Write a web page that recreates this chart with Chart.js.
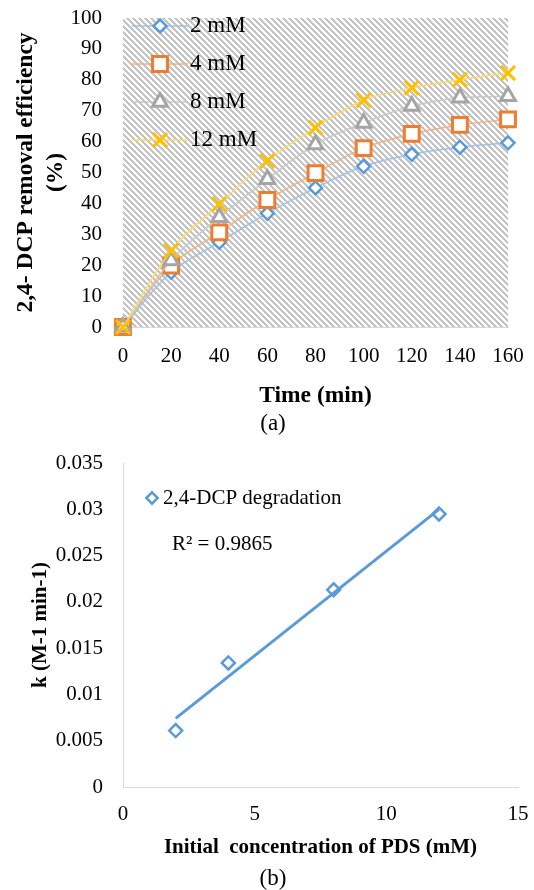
<!DOCTYPE html>
<html>
<head>
<meta charset="utf-8">
<script src="https://cdn.jsdelivr.net/npm/chart.js@4.4.1/dist/chart.umd.min.js"></script>
<style>
  body { margin: 0; background: #fff; }
  #page { position: relative; width: 534px; height: 890px; font-family: "Liberation Serif", "Times New Roman", serif; color: #000; }
  canvas { position: absolute; left: 0; }
  .cap { position: absolute; width: 100px; text-align: center; font-size: 23px; line-height: 26px; }
  #r2 { position: absolute; left: 172px; top: 531px; font-size: 21px; line-height: 24px; }
</style>
</head>
<body>
<div id="page">
  <canvas id="timeChart" width="534" height="440" style="top:0"></canvas>
  <div class="cap" style="left:223px;top:410px">(a)</div>
  <canvas id="rateChart" width="534" height="450" style="top:440px"></canvas>
  <div id="r2"></div>
  <div class="cap" style="left:223px;top:865px">(b)</div>
</div>
<script>
// (a) removal vs time
const times = ['0', '20', '40', '60', '80', '100', '120', '140', '160'];
const removal2mM = [0, 17.7, 27.4, 36.8, 45.0, 52.0, 55.9, 58.2, 59.6];
const removal4mM = [0, 19.9, 30.6, 41.1, 49.8, 57.9, 62.5, 65.4, 67.2];
const removal8mM = [0, 21.5, 35.5, 47.8, 59.1, 66.0, 71.5, 74.2, 74.7];
const removal12mM = [0, 24.7, 39.8, 53.8, 64.5, 73.4, 77.4, 80.0, 82.2];
const seriesNames = ['2 mM', '4 mM', '8 mM', '12 mM'];
const yTicksA = ['0', '10', '20', '30', '40', '50', '60', '70', '80', '90', '100'];

// (b) rate constant vs PDS
const pdsConc = [2, 4, 8, 12];
const rateK = [0.0061, 0.0134, 0.0213, 0.0295];
const xTicksB = ['0', '5', '10', '15'];
const yTicksB = ['0', '0.005', '0.01', '0.015', '0.02', '0.025', '0.03', '0.035'];
const rateLabel = '2,4-DCP degradation';
const r2Text = 'R² = 0.9865';

const FAMILY = '"Liberation Serif", "Times New Roman", serif';
document.getElementById('r2').textContent = r2Text;

const looks = [
  { marker: 'rectRot', r: 6.5, bw: 2.5, color: '#5b9bd5', line: '#9dc3e6' },
  { marker: 'rect', r: 10.5, bw: 3, color: '#ed7d31', line: '#f4b183' },
  { marker: 'triangle', r: 8.5, bw: 3, color: '#a5a5a5', line: '#c9c9c9' },
  { marker: 'crossRot', r: 10, bw: 3, color: '#ffc000', line: '#ffd966' }
];

// legend icon: short line with the marker on it
function makeIcon(lk) {
  const c = document.createElement('canvas');
  c.width = 56; c.height = 26;
  const g = c.getContext('2d');
  const cx = 28, cy = 13, r = lk.r;
  g.strokeStyle = lk.line; g.lineWidth = 1.5;
  g.beginPath(); g.moveTo(0, cy); g.lineTo(56, cy); g.stroke();
  g.strokeStyle = lk.color; g.lineWidth = lk.bw; g.fillStyle = '#fff';
  g.beginPath();
  if (lk.marker === 'rectRot') {
    g.moveTo(cx, cy - r); g.lineTo(cx + r, cy); g.lineTo(cx, cy + r); g.lineTo(cx - r, cy); g.closePath();
  } else if (lk.marker === 'rect') {
    const s = r * Math.SQRT1_2;
    g.rect(cx - s, cy - s, 2 * s, 2 * s);
  } else if (lk.marker === 'triangle') {
    for (let k = 0; k < 3; k++) {
      const a = -Math.PI / 2 + k * 2 * Math.PI / 3;
      g[k ? 'lineTo' : 'moveTo'](cx + r * Math.cos(a), cy + r * Math.sin(a));
    }
    g.closePath();
  } else {
    const o = r * Math.SQRT1_2;
    g.moveTo(cx - o, cy - o); g.lineTo(cx + o, cy + o);
    g.moveTo(cx + o, cy - o); g.lineTo(cx - o, cy + o);
  }
  if (lk.marker !== 'crossRot') g.fill();
  g.stroke();
  return c;
}
const legendIcons = looks.map(makeIcon);

function hatchPattern(ctx) {
  const t = document.createElement('canvas');
  t.width = 6; t.height = 6;
  const c = t.getContext('2d');
  c.fillStyle = '#fff'; c.fillRect(0, 0, 6, 6);
  c.fillStyle = '#c4c4c4';
  for (let y = 0; y < 6; y++) {
    for (let x = 0; x < 6; x++) {
      if ((((x - y) % 6) + 6) % 6 < 3) c.fillRect(x, y, 1, 1);
    }
  }
  return ctx.createPattern(t, 'repeat');
}

const hatchBg = {
  id: 'hatchBg',
  beforeDraw(chart) {
    const { ctx, chartArea: a } = chart;
    ctx.save();
    ctx.fillStyle = hatchPattern(ctx);
    ctx.fillRect(a.left, a.top, a.right - a.left, a.bottom - a.top);
    ctx.restore();
  }
};

// put the legend box where excel had it
const legendSpot = {
  id: 'legendSpot',
  afterLayout(chart, args, opts) {
    const lg = chart.legend;
    lg.left = opts.x; lg.top = opts.y;
    lg.right = lg.left + 350; lg.bottom = lg.top + 300;
  }
};

// fixed axis boxes, no extra label overhang padding
const fixY = (w) => (s) => { s.width = w; s.paddingTop = 0; s.paddingBottom = 0; };
const fixX = (h) => (s) => { s.height = h; s.paddingLeft = 0; s.paddingRight = 0; };

const tickFont = { family: FAMILY, size: 21 };

const seriesData = [removal2mM, removal4mM, removal8mM, removal12mM];

new Chart(document.getElementById('timeChart'), {
  type: 'line',
  data: {
    labels: times,
    datasets: seriesData.map((d, i) => ({
      label: seriesNames[i],
      data: d,
      borderColor: looks[i].line,
      borderWidth: 1.5,
      tension: 0.35,
      pointStyle: looks[i].marker,
      pointRadius: looks[i].r,
      pointBorderWidth: looks[i].bw,
      pointBorderColor: looks[i].color,
      pointBackgroundColor: '#fff',
      clip: false,
      order: 4 - i
    }))
  },
  options: {
    responsive: false,
    animation: false,
    events: [],
    layout: { autoPadding: false, padding: { left: 0, top: 18, right: 26, bottom: 0 } },
    scales: {
      x: {
        grid: { display: false, drawTicks: false },
        border: { display: true, color: '#d9d9d9', width: 1 },
        ticks: { font: tickFont, color: '#000', padding: 16.4, maxRotation: 0, autoSkip: false,
          callback: (v, i) => times[i] },
        title: { display: true, text: 'Time (min)', color: '#000',
          font: { family: FAMILY, size: 23.5, weight: 'bold' }, padding: { top: 0, bottom: 30 } },
        afterFit: fixX(113)
      },
      y: {
        min: 0, max: 100,
        grid: { display: false, drawTicks: false },
        border: { display: false },
        ticks: { stepSize: 10, font: tickFont, color: '#000', padding: 21,
          callback: (v, i) => yTicksA[i] },
        title: { display: true, text: ['2,4- DCP removal efficiency', '(%)'], color: '#000',
          font: { family: FAMILY, size: 23.5, weight: 'bold', lineHeight: 1.25 }, padding: { top: 11.5, bottom: 0 } },
        afterFit: fixY(123)
      }
    },
    plugins: {
      legend: {
        position: 'chartArea',
        align: 'start',
        labels: {
          usePointStyle: true,
          pointStyleWidth: 37,
          padding: 15,
          color: '#000',
          font: { family: FAMILY, size: 23 },
          sort: (a, b) => a.datasetIndex - b.datasetIndex,
          generateLabels(chart) {
            const items = Chart.defaults.plugins.legend.labels.generateLabels(chart);
            items.forEach((it) => { it.pointStyle = legendIcons[it.datasetIndex]; });
            return items;
          }
        }
      },
      tooltip: { enabled: false },
      legendSpot: { x: 126.5, y: -0.5 }
    }
  },
  plugins: [hatchBg, legendSpot]
});

// linear trendline from the points
function linFit(xs, ys) {
  const n = xs.length;
  const mx = xs.reduce((a, b) => a + b, 0) / n;
  const my = ys.reduce((a, b) => a + b, 0) / n;
  let sxy = 0, sxx = 0;
  for (let i = 0; i < n; i++) { sxy += (xs[i] - mx) * (ys[i] - my); sxx += (xs[i] - mx) ** 2; }
  const m = sxy / sxx;
  return { m, b: my - m * mx };
}
const fit = linFit(pdsConc, rateK);
const trendEnds = [pdsConc[0], pdsConc[pdsConc.length - 1]];

new Chart(document.getElementById('rateChart'), {
  type: 'scatter',
  data: {
    datasets: [
      {
        label: rateLabel,
        data: pdsConc.map((x, i) => ({ x, y: rateK[i] })),
        pointStyle: 'rectRot',
        pointRadius: 6.5,
        pointBorderWidth: 2.5,
        borderColor: '#5b9bd5',
        backgroundColor: '#fff',
        clip: false,
        order: 2
      },
      {
        type: 'line',
        label: 'Linear',
        data: trendEnds.map((x) => ({ x, y: fit.b + fit.m * x })),
        borderColor: '#5b9bd5',
        borderWidth: 3,
        pointRadius: 0,
        fill: false,
        order: 1
      }
    ]
  },
  options: {
    responsive: false,
    animation: false,
    events: [],
    layout: { autoPadding: false, padding: { left: 0, top: 23, right: 16, bottom: 0 } },
    scales: {
      x: {
        type: 'linear', min: 0, max: 15,
        grid: { display: false, drawTicks: false },
        border: { display: true, color: '#d9d9d9', width: 1 },
        ticks: { stepSize: 5, font: tickFont, color: '#000', padding: 14.5,
          callback: (v, i) => xTicksB[i] },
        title: { display: true, text: 'Initial  concentration of PDS (mM)', color: '#000',
          font: { family: FAMILY, size: 21, weight: 'bold' }, padding: { top: 0, bottom: 29.6 } },
        afterFit: fixX(103)
      },
      y: {
        min: 0, max: 0.035,
        grid: { display: false, drawTicks: false },
        border: { display: true, color: '#d9d9d9', width: 1 },
        ticks: { stepSize: 0.005, font: tickFont, color: '#000', padding: 20,
          callback: (v, i) => yTicksB[i] },
        title: { display: true, text: 'k (M-1 min-1)', color: '#000',
          font: { family: FAMILY, size: 21, weight: 'bold' }, padding: { top: 28, bottom: 0 } },
        afterFit: fixY(123)
      }
    },
    plugins: {
      legend: {
        position: 'chartArea',
        align: 'start',
        labels: {
          usePointStyle: true,
          boxWidth: 1,
          boxHeight: 8,
          padding: 10,
          color: '#000',
          font: { family: FAMILY, size: 21 },
          filter: (it) => it.datasetIndex === 0
        }
      },
      tooltip: { enabled: false },
      legendSpot: { x: 141.5, y: 37.5 }
    }
  },
  plugins: [legendSpot]
});
</script>
</body>
</html>
